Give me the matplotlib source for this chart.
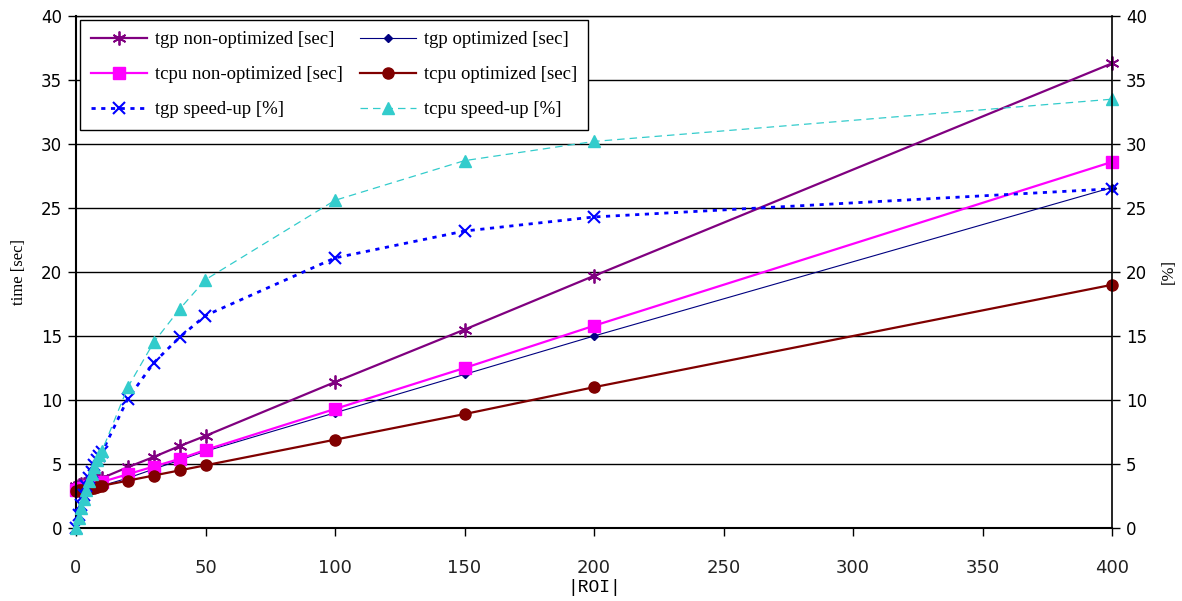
import matplotlib
matplotlib.use("Agg")
import matplotlib.pyplot as plt

# |ROI| sizes
roi = [0, 1, 2, 3, 4, 5, 6, 7, 8, 9, 10, 20, 30, 40, 50, 100, 150, 200, 400]

# execution times [sec]
tgp_nonopt = [3.3, 3.35, 3.4, 3.45, 3.5, 3.55, 3.6, 3.7, 3.75, 3.8, 3.9, 4.75, 5.55, 6.4, 7.2, 11.4, 15.5, 19.7, 36.3]
tgp_opt = [2.7, 2.75, 2.8, 2.85, 2.9, 2.95, 3.0, 3.1, 3.15, 3.2, 3.3, 3.9, 4.6, 5.3, 6.0, 9.0, 12.0, 15.0, 26.6]
tcpu_nonopt = [3.0, 3.05, 3.1, 3.15, 3.2, 3.25, 3.3, 3.35, 3.4, 3.5, 3.6, 4.2, 4.8, 5.4, 6.1, 9.3, 12.5, 15.8, 28.6]
tcpu_opt = [2.9, 2.93, 2.96, 3.0, 3.03, 3.07, 3.1, 3.15, 3.2, 3.25, 3.3, 3.7, 4.1, 4.5, 4.9, 6.9, 8.9, 11.0, 19.0]

# speed-up [%]
tgp_speedup = [0.0, 1.0, 1.8, 2.6, 3.3, 3.9, 4.4, 4.9, 5.3, 5.6, 5.9, 10.1, 12.9, 14.9, 16.6, 21.1, 23.2, 24.3, 26.5]
tcpu_speedup = [0.0, 0.8, 1.6, 2.3, 3.0, 3.7, 4.2, 4.8, 5.3, 5.7, 6.0, 11.0, 14.5, 17.1, 19.4, 25.6, 28.7, 30.2, 33.5]

x_ticks = [0, 50, 100, 150, 200, 250, 300, 350, 400]
y_ticks = [0, 5, 10, 15, 20, 25, 30, 35, 40]

asterisk = (6, 2, 0)
serif = ["Liberation Serif", "DejaVu Serif"]

fig = plt.figure(figsize=(11.82, 6.01), dpi=100)
ax = fig.add_axes([76 / 1182, 1 - 528 / 601, (1112 - 76) / 1182, (528 - 16) / 601])
ax2 = ax.twinx()

h1, = ax.plot(roi, tgp_nonopt, color="#800080", lw=1.6, marker=asterisk, ms=10, mew=1.3,
              clip_on=False, label="tgp non-optimized [sec]")
h2, = ax.plot(roi, tgp_opt, color="#000080", lw=0.8, marker="D", ms=4,
              clip_on=False, label="tgp optimized [sec]")
h3, = ax.plot(roi, tcpu_nonopt, color="#FF00FF", lw=1.6, marker="s", ms=8,
              clip_on=False, label="tcpu non-optimized [sec]")
h4, = ax.plot(roi, tcpu_opt, color="#800000", lw=1.6, marker="o", ms=8,
              clip_on=False, label="tcpu optimized [sec]")
h5, = ax2.plot(roi, tgp_speedup, color="#0000FF", lw=2.0, ls=(0, (1.5, 2.0)), marker="x", ms=9, mew=1.5,
               clip_on=False, label="tgp speed-up [%]")
h6, = ax2.plot(roi, tcpu_speedup, color="#33CCCC", lw=0.9, ls=(0, (6, 4)), marker="^", ms=9,
               clip_on=False, label="tcpu speed-up [%]")

for a in (ax, ax2):
    a.set_xlim(0, 400)
    a.set_ylim(0, 40)
    a.set_yticks(y_ticks)
    a.spines["top"].set_visible(False)

ax.set_xticks(x_ticks)
ax.yaxis.grid(True, color="black", lw=1.0)
ax.set_axisbelow(True)
ax.spines["left"].set_linewidth(1.5)
ax.spines["bottom"].set_linewidth(1.5)
ax.spines["right"].set_visible(False)
ax2.spines["left"].set_visible(False)
ax2.spines["bottom"].set_visible(False)
ax2.spines["right"].set_linewidth(1.2)

ax.tick_params(axis="y", direction="out", length=6, width=1, labelsize=12, pad=4, colors="black")
ax.tick_params(axis="x", direction="out", length=6, width=1, pad=16)
ax2.tick_params(axis="y", direction="out", length=6, width=1, labelsize=12, pad=4)
for lbl in ax.get_xticklabels():
    lbl.set_family(["Liberation Sans Narrow", "DejaVu Sans"])
    lbl.set_fontsize(13)
    lbl.set_color("#222222")

ax.set_xlabel("|ROI|", family=["Liberation Mono", "DejaVu Sans Mono"], fontsize=13, labelpad=2)
ax.set_ylabel("time [sec]", family=serif, fontsize=12, labelpad=10)
ax2.set_ylabel("[%]", family=serif, fontsize=12, labelpad=10)

# horizontal top border line at 40
ax.axhline(40, color="black", lw=1.0, clip_on=False)

leg = ax2.legend(handles=[h1, h3, h5, h2, h4, h6], ncol=2, loc="upper left",
                 bbox_to_anchor=(4 / 1036, 1 - 4 / 512), fancybox=False, framealpha=1,
                 edgecolor="black", borderaxespad=0, handlelength=3.0, columnspacing=0.9,
                 labelspacing=0.95, borderpad=0.6, handletextpad=0.4,
                 prop={"family": serif, "size": 13.5})
leg.get_frame().set_linewidth(1.0)

fig.savefig("out.png", dpi=100)
